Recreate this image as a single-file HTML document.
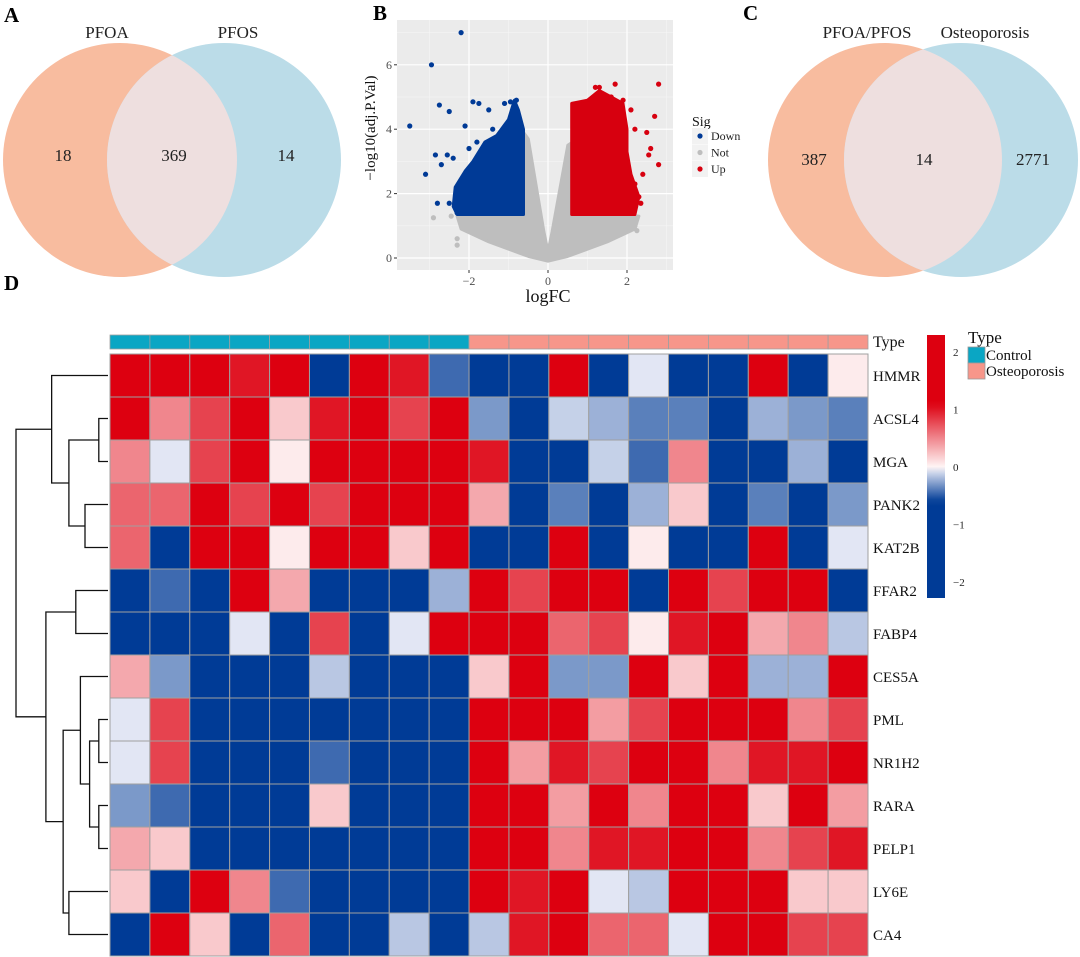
<!DOCTYPE html>
<html><head><meta charset="utf-8">
<style>
body{margin:0;background:#fff;}
svg{display:block;font-family:"Liberation Serif",serif;}
</style></head>
<body>
<svg id="fig" width="1080" height="957" viewBox="0 0 1080 957">
 <!-- Panel letters -->
 <text x="4" y="22" font-size="21" font-weight="bold">A</text>
 <text x="373" y="20" font-size="21" font-weight="bold">B</text>
 <text x="743" y="20" font-size="21" font-weight="bold">C</text>
 <text x="4" y="290" font-size="21" font-weight="bold">D</text>

 <!-- Venn A -->
 <g>
  <circle cx="120" cy="160" r="117" fill="#F8BC9F"/>
  <circle cx="224" cy="160" r="117" fill="#BBDCE8"/>
  <clipPath id="clipA"><circle cx="120" cy="160" r="117"/></clipPath>
  <circle cx="224" cy="160" r="117" fill="#EEDFDF" clip-path="url(#clipA)"/>
  <text x="107" y="38" font-size="17" text-anchor="middle" fill="#222">PFOA</text>
  <text x="238" y="38" font-size="17" text-anchor="middle" fill="#222">PFOS</text>
  <text x="63" y="161" font-size="17" text-anchor="middle" fill="#222">18</text>
  <text x="174" y="161" font-size="17" text-anchor="middle" fill="#222">369</text>
  <text x="286" y="161" font-size="17" text-anchor="middle" fill="#222">14</text>
 </g>

 <!-- Venn C -->
 <g>
  <circle cx="885" cy="160" r="117" fill="#F8BC9F"/>
  <circle cx="961" cy="160" r="117" fill="#BBDCE8"/>
  <clipPath id="clipC"><circle cx="885" cy="160" r="117"/></clipPath>
  <circle cx="961" cy="160" r="117" fill="#EEDFDF" clip-path="url(#clipC)"/>
  <text x="867" y="38" font-size="17" text-anchor="middle" fill="#222">PFOA/PFOS</text>
  <text x="985" y="38" font-size="17" text-anchor="middle" fill="#222">Osteoporosis</text>
  <text x="814" y="165" font-size="17" text-anchor="middle" fill="#222">387</text>
  <text x="924" y="165" font-size="17" text-anchor="middle" fill="#222">14</text>
  <text x="1033" y="165" font-size="17" text-anchor="middle" fill="#222">2771</text>
 </g>

 <!-- Volcano B -->
 <g id="volcano"></g>

 <!-- Heatmap D -->
 <g id="heatmap"></g>
</svg>

<script>
// ---------- Volcano data ----------
const volXTicks = [-2, 0, 2];
const volYTicks = [0, 2, 4, 6];
const notRegion = [[-2.3,1.3],[-0.62,1.3],[-0.62,3.9],[-0.5,3.7],[-0.1,0.8],[0,0.2],[0.1,0.8],[0.5,3.5],[0.62,3.6],[0.62,1.3],[2.3,1.3],[2.2,0.9],[1.5,0.5],[0.5,0.05],[0,-0.1],[-0.5,0.05],[-1.5,0.5],[-2.2,0.9]];
const downRegion = [[-2.3,1.35],[-0.62,1.35],[-0.62,4.0],[-0.75,4.6],[-0.85,4.9],[-1.0,4.3],[-1.3,3.8],[-1.6,3.6],[-1.9,3.0],[-2.1,2.7],[-2.35,2.2],[-2.4,1.6]];
const upRegion = [[0.6,1.35],[2.2,1.35],[2.3,1.9],[2.1,2.6],[2.0,3.3],[2.0,4.0],[1.9,4.8],[1.6,5.0],[1.3,5.2],[1.0,4.9],[0.6,4.8],[0.6,3.6]];
const downX = [-3.5,-2.95,-2.2,-2.75,-2.5,-3.1,-2.85,-2.7,-2.55,-1.9,-1.75,-1.5,-1.1,-0.95,-0.8,-2.1,-2.8,-2.5,-2.3,-1.4,-1.8,-2.4,-2.0];
const downY = [4.1,6.0,7.0,4.75,4.55,2.6,3.2,2.9,3.2,4.85,4.8,4.6,4.8,4.85,4.9,4.1,1.7,1.7,1.4,4.0,3.6,3.1,3.4];
const upX = [2.8,1.7,1.3,1.2,2.7,2.8,2.5,2.6,2.55,2.3,2.35,2.1,2.2,1.9,2.1,2.2,2.4,1.6];
const upY = [5.4,5.4,5.3,5.3,4.4,2.9,3.9,3.4,3.2,1.9,1.7,1.6,2.3,4.9,4.6,4.0,2.6,5.0];
const notX = [-2.9,-2.45,-2.3,-2.3,2.2,2.25,2.1];
const notY = [1.25,1.3,0.6,0.4,1.0,0.85,1.2];

// ---------- Heatmap data ----------
const genes = ["HMMR","ACSL4","MGA","PANK2","KAT2B","FFAR2","FABP4","CES5A","PML","NR1H2","RARA","PELP1","LY6E","CA4"];
const sampleTypes = ["Control","Control","Control","Control","Control","Control","Control","Control","Control","Osteoporosis","Osteoporosis","Osteoporosis","Osteoporosis","Osteoporosis","Osteoporosis","Osteoporosis","Osteoporosis","Osteoporosis","Osteoporosis"];
const rowHMMR  = [2,2,1.8,1.0,2,-2,2,1.0,-0.45, -2,-2,1.8,-2,-0.05,-2,-2,2,-1.5,0.05];
const rowACSL4 = [2,0.5,0.8,2,0.2,1.0,2,0.8,2, -0.3,-2,-0.12,-0.22,-0.38,-0.38,-2,-0.22,-0.3,-0.38];
const rowMGA   = [0.5,-0.05,0.8,2,0.05,2,2,1.8,2, 1.0,-2,-2,-0.12,-0.45,0.5,-2,-2,-0.22,-1.5];
const rowPANK2 = [0.65,0.65,2,0.8,2,0.8,2,2,2, 0.35,-2,-0.38,-2,-0.22,0.2,-2,-0.38,-2,-0.3];
const rowKAT2B = [0.65,-2,2,2,0.05,2,2,0.2,2, -2,-2,2,-2,0.05,-2,-2,2,-2,-0.05];
const rowFFAR2 = [-2,-0.45,-2,2,0.35,-2,-2,-2,-0.22, 2,0.8,2,2,-2,2,0.8,2,2,-2];
const rowFABP4 = [-2,-2,-2,-0.05,-1.5,0.8,-2,-0.05,2, 2,2,0.65,0.8,0.05,1.0,2,0.35,0.5,-0.15];
const rowCES5A = [0.35,-0.3,-2,-2,-2,-0.15,-2,-2,-2, 0.2,2,-0.3,-0.3,2,0.2,2,-0.22,-0.22,2];
const rowPML   = [-0.05,0.8,-2,-2,-2,-2,-2,-2,-2, 1.8,2,2,0.4,0.8,1.8,2,2,0.5,0.8];
const rowNR1H2 = [-0.05,0.8,-2,-2,-1.5,-0.45,-2,-2,-2, 2,0.4,1.0,0.8,2,2,0.5,1.0,1.0,2];
const rowRARA  = [-0.3,-0.45,-2,-2,-2,0.2,-2,-2,-2, 2,2,0.4,2,0.5,2,2,0.2,2,0.4];
const rowPELP1 = [0.35,0.2,-2,-2,-2,-2,-2,-2,-2, 2,2,0.5,1.0,1.0,2,2,0.5,0.8,1.0];
const rowLY6E  = [0.2,-2,2,0.5,-0.45,-2,-2,-2,-2, 2,1.0,2,-0.05,-0.15,2,1.8,2,0.2,0.2];
const rowCA4   = [-2,2,0.2,-2,0.65,-2,-2,-0.15,-2, -0.15,1.0,2,0.65,0.65,-0.05,1.8,2,0.8,0.8];
const colorTicks = [2, 1, 0, -1, -2];
// dendrogram: [height, left, right]; numbers = leaf row index
const rowTree = [0, [0.31, 0, [0.46, [0.72, 1, 2], [0.6, 3, 4]]], [0.26, [0.52, 5, 6], [0.41, [0.56, 7, [0.64, [0.72, 8, 9], [0.72, 10, 11]]], [0.46, 12, 13]]]];

const NS = "http://www.w3.org/2000/svg";
function mk(parent, tag, attrs) {
  const e = document.createElementNS(NS, tag);
  for (const k in attrs) e.setAttribute(k, attrs[k]);
  parent.appendChild(e);
  return e;
}

// ---------- Volcano drawing ----------
(function(){
  const g = document.getElementById('volcano');
  const px0 = 397, px1 = 673, py0 = 20, py1 = 270;
  const xs = v => 548 + v * 39.5;
  const ys = v => 258 - v * 32.2;
  const bg = mk(g, 'rect', {x:px0, y:py0, width:px1-px0, height:py1-py0, fill:'#EBEBEB'});
  
  
  [-3,-1,1,3].forEach(v => { const x = xs(v); if (x>px0 && x<px1) mk(g,'line',{x1:x,x2:x,y1:py0,y2:py1,stroke:'#F5F5F5','stroke-width':0.6}); });
  [1,3,5,7].forEach(v => { mk(g,'line',{x1:px0,x2:px1,y1:ys(v),y2:ys(v),stroke:'#F5F5F5','stroke-width':0.6}); });
  volXTicks.forEach(v => {
    const x = xs(v);
    const l = mk(g,'line',{x1:x,x2:x,y1:py0,y2:py1,stroke:'#fff','stroke-width':1.2});
    
    
    mk(g,'line',{x1:x,x2:x,y1:py1,y2:py1+3,stroke:'#333','stroke-width':1});
    const t = mk(g,'text',{x:x,y:py1+15,'font-size':12,'text-anchor':'middle',fill:'#4d4d4d'});
    t.textContent = v < 0 ? '\u2212' + Math.abs(v) : String(v);
    
    
  });
  volYTicks.forEach(v => {
    const y = ys(v);
    const l = mk(g,'line',{x1:px0,x2:px1,y1:y,y2:y,stroke:'#fff','stroke-width':1.2});
    
    
    mk(g,'line',{x1:px0-3,x2:px0,y1:y,y2:y,stroke:'#333','stroke-width':1});
    const t = mk(g,'text',{x:px0-5,y:y+4,'font-size':12,'text-anchor':'end',fill:'#4d4d4d'});
    t.textContent = String(v);
    
    
  });
  function region(pts, color, name) {
    const p = mk(g,'polygon',{points: pts.map(q => xs(q[0]).toFixed(1)+','+ys(q[1]).toFixed(1)).join(' '), fill:color, stroke:color, 'stroke-width':3, 'stroke-linejoin':'round'});
    
    
  }
  region(notRegion, '#BEBEBE', 'volcano-not-sig-points');
  region(downRegion, '#003A96', 'volcano-down-points');
  region(upRegion, '#D7000F', 'volcano-up-points');
  function pts(X, Y, color, name) {
    X.forEach((x, i) => {
      const c = mk(g,'circle',{cx:xs(x), cy:ys(Y[i]), r:2.6, fill:color});
      
      
    });
  }
  pts(notX, notY, '#BEBEBE', 'volcano-point-not');
  pts(downX, downY, '#003A96', 'volcano-point-down');
  pts(upX, upY, '#D7000F', 'volcano-point-up');
  const xt = mk(g,'text',{x:548,y:302,'font-size':18,'text-anchor':'middle',fill:'#111'});
  xt.textContent = 'logFC';
  
  
  const yt = mk(g,'text',{x:0,y:0,'font-size':15,'text-anchor':'middle',fill:'#111',transform:'translate(375,128) rotate(-90)'});
  yt.textContent = '\u2212log10(adj.P.Val)';
  
  
  const lt = mk(g,'text',{x:692,y:126,'font-size':14,fill:'#111'});
  lt.textContent = 'Sig';
  
  
  [['Down','#003A96'],['Not','#BEBEBE'],['Up','#D7000F']].forEach((d, i) => {
    const y = 136 + i * 16.5;
    mk(g,'rect',{x:692,y:y-8,width:16,height:16,fill:'#F2F2F2'});
    const c = mk(g,'circle',{cx:700,cy:y,r:2.6,fill:d[1]});
    
    
    const t = mk(g,'text',{x:711,y:y+4,'font-size':12,fill:'#222'});
    t.textContent = d[0];
    
    
  });
})();

// ---------- Heatmap drawing ----------
(function(){
  const g = document.getElementById('heatmap');
  const rows = [rowHMMR,rowACSL4,rowMGA,rowPANK2,rowKAT2B,rowFFAR2,rowFABP4,rowCES5A,rowPML,rowNR1H2,rowRARA,rowPELP1,rowLY6E,rowCA4];
  const x0 = 110, x1 = 868, y0 = 354, cellH = 43;
  const cellW = (x1 - x0) / sampleTypes.length;
  const colX = j => x0 + j * cellW;
  const rowY = i => y0 + i * cellH;
  function lerp(a, b, t) { return a.map((v, k) => Math.round(v + (b[k] - v) * t)); }
  function color(v) {
    const white = [255, 246, 246], red = [221, 0, 16], blue = [0, 59, 150];
    let c;
    if (v >= 0) c = lerp(white, red, Math.min(1, v / 1.1));
    else c = lerp([246, 246, 252], blue, Math.min(1, -v / 0.6));
    return 'rgb(' + c.join(',') + ')';
  }
  sampleTypes.forEach((t, j) => {
    const r = mk(g,'rect',{x:colX(j), y:335, width:cellW, height:14, fill: t === 'Control' ? '#0AA6C4' : '#F7968A', stroke:'#A0A0A0','stroke-width':0.8});
    
    
  });
  const tl = mk(g,'text',{x:873,y:347,'font-size':16,fill:'#111'});
  tl.textContent = 'Type';
  
  
  rows.forEach((row, i) => {
    row.forEach((v, j) => {
      const r = mk(g,'rect',{x:colX(j), y:rowY(i), width:cellW, height:cellH, fill:color(v), stroke:'#A0A0A0','stroke-width':1});
      
      
    });
    const t = mk(g,'text',{x:873, y:rowY(i) + cellH/2 + 5.5, 'font-size':15, fill:'#111'});
    t.textContent = genes[i];
    
    
  });
  const hx = h => 16 + h * 92 / 0.8;
  function draw(node) {
    if (typeof node === 'number') return {x: x0 - 2, y: rowY(node) + cellH / 2};
    const a = draw(node[1]), b = draw(node[2]);
    const x = hx(node[0]);
    const p = mk(g,'path',{d:`M${a.x},${a.y}H${x}V${b.y}H${b.x}`, fill:'none', stroke:'#111','stroke-width':1.3});
    
    
    return {x: x, y: (a.y + b.y) / 2};
  }
  draw(rowTree);
  const cbTop = 335, cbBot = 598, cbX = 927, cbW = 18;
  const vY = v => 467 - v * 57.5;
  const defs = mk(g,'defs',{});
  const lg = mk(defs,'linearGradient',{id:'cbgrad', x1:0, y1:0, x2:0, y2:1});
  for (let k = 0; k <= 40; k++) {
    const y = cbTop + (cbBot - cbTop) * k / 40;
    const v = (467 - y) / 57.5;
    mk(lg,'stop',{offset:(k/40).toFixed(3), 'stop-color':color(v)});
  }
  const cb = mk(g,'rect',{x:cbX, y:cbTop, width:cbW, height:cbBot-cbTop, fill:'url(#cbgrad)'});
  
  
  colorTicks.forEach(v => {
    const t = mk(g,'text',{x:953, y:vY(v) + 4, 'font-size':11, fill:'#222'});
    t.textContent = v < 0 ? '\u2212' + Math.abs(v) : String(v);
    
    
  });
  const lt = mk(g,'text',{x:968,y:343,'font-size':17,fill:'#111'});
  lt.textContent = 'Type';
  
  
  [['Control','#0AA6C4'],['Osteoporosis','#F7968A']].forEach((d, i) => {
    const y = 347 + i * 16;
    const r = mk(g,'rect',{x:968,y:y,width:17,height:16,fill:d[1],stroke:'#999','stroke-width':0.8});
    
    
    const t = mk(g,'text',{x:986,y:y+13,'font-size':15,fill:'#111'});
    t.textContent = d[0];
    
    
  });
})();
</script>
</body></html>
